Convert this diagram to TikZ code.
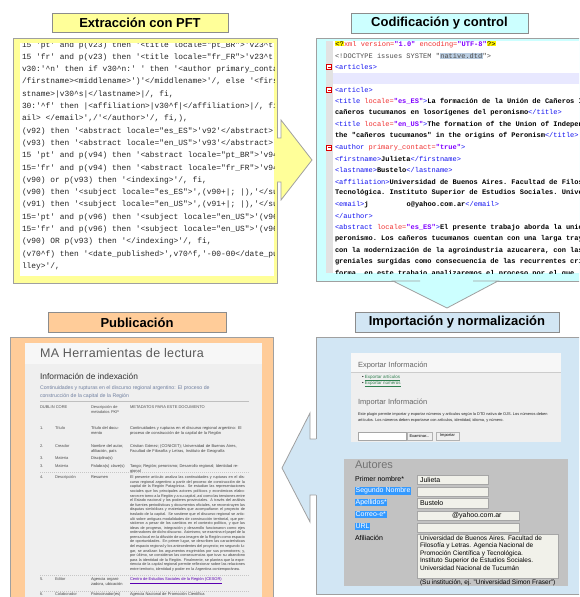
\documentclass[tikz,border=0pt]{standalone}
\usepackage{fontspec}
\setmainfont{Liberation Sans}
\setmonofont{Liberation Mono}
\usetikzlibrary{positioning}

\definecolor{pftyellow}{HTML}{FFFF99}
\definecolor{xmlcyan}{HTML}{CCFFFF}
\definecolor{pubpeach}{HTML}{FFCC99}
\definecolor{impblue}{HTML}{D2E6F4}
\definecolor{framegray}{HTML}{A0A0A0}
\definecolor{titlegray}{HTML}{8C8C8C}
\definecolor{xtagblue}{HTML}{1010F0}
\definecolor{xattred}{HTML}{F03030}
\definecolor{xvalpurple}{HTML}{8000FF}
\definecolor{dtdgray}{HTML}{B9CCE0}
\definecolor{foldband}{HTML}{E8E8FF}
\definecolor{gutter}{HTML}{E2E2E2}
\definecolor{ojsbg}{HTML}{EFEFEF}
\definecolor{ojstext}{HTML}{505050}
\definecolor{ojslink}{HTML}{7080A0}
\definecolor{linkgreen}{HTML}{2F7F4F}
\definecolor{formgray}{HTML}{C2C2C2}
\definecolor{fieldbg}{HTML}{F1F1EA}
\definecolor{selblue}{HTML}{3399FF}

\newcommand{\fsz}[2]{\fontsize{#1}{#2}\selectfont}
\newcommand{\ci}{\textasciicircum}
\newcommand{\xtag}[1]{\textcolor{xtagblue}{#1}}
\newcommand{\xatt}[1]{\textcolor{xattred}{#1}}
\newcommand{\xval}[1]{\textcolor{xvalpurple}{\bfseries #1}}
\newcommand{\xhl}[2]{{\setlength{\fboxsep}{0.3pt}\colorbox{#1}{#2}}}
\newcommand{\sel}[1]{{\setlength{\fboxsep}{0.6pt}\colorbox{selblue}{\textcolor{white}{#1}}}}

\begin{document}
\begin{tikzpicture}[x=1pt,y=-1pt,
  every node/.style={inner sep=0pt,outer sep=0pt},
  titlebox/.style={draw=titlegray,line width=0.8pt,minimum height=19.5pt,font=\fsz{13}{15}\bfseries},
  panel/.style={draw=framegray,line width=0.8pt},
  arrowedge/.style={draw=framegray,line width=0.8pt,line join=miter},
  pftline/.style={anchor=west,text=black!85,font=\ttfamily\fsz{7.9}{9}},
  xmlline/.style={anchor=west,font=\ttfamily\fsz{7}{8}},
  foldmark/.style={draw=red!85!black,line width=0.6pt},
  ojs/.style={anchor=north west,align=left,text=ojstext,font=\fsz{4}{4.6}},
  formlabel/.style={anchor=west,font=\fsz{7}{8}},
  field/.style={draw=gray!70,fill=fieldbg,line width=0.5pt},
  webbutton/.style={draw=gray!60,fill=gray!12,line width=0.4pt,font=\fsz{4}{5}}]

\useasboundingbox (0,0) rectangle (579,597);
\clip (0,0) rectangle (579,597);

\node[titlebox,minimum width=176pt,fill=pftyellow] (extr) at (140,23) {Extracción con PFT};
\node[titlebox,minimum width=177pt,fill=xmlcyan] (codif) at (439.5,23.5) {Codificación y control};
\node[titlebox,minimum width=178pt,fill=pubpeach] (pub) at (137,322.5) {Publicación};
\node[titlebox,minimum width=204pt,fill=impblue] (impo) at (457,322.5) {Importación y normalización};

\draw[panel,fill=pftyellow] (13,38) rectangle (277,283);
\fill[white] (20,43) rectangle (274,276);
\begin{scope}
  \clip (20,43) rectangle (274,276);
  \foreach \txt [count=\i from 0] in {
    {15 'pt' and p(v23) then '<title locale="pt\_BR">'v23\ci t'</title>'/, fi,},
    {15 'fr' and p(v23) then '<title locale="fr\_FR">'v23\ci t'</title>'/, fi,},
    {v30:'\ci n' then if v30\ci n:' ' then '<author primary\_contact="true">'},
    {/firstname><middlename>')'</middlename>'/, else '<firstname>'},
    {stname>|v30\ci s|</lastname>|/, fi,},
    {30:'\ci f' then |<affiliation>|v30\ci f|</affiliation>|/, fi,},
    {ail> </email>',/'</author>'/, fi,),},
    {(v92) then '<abstract locale="es\_ES">'v92'</abstract>'/,},
    {(v93) then '<abstract locale="en\_US">'v93'</abstract>'/,},
    {15 'pt' and p(v94) then '<abstract locale="pt\_BR">'v94},
    {15='fr' and p(v94) then '<abstract locale="fr\_FR">'v94},
    {(v90) or p(v93) then '<indexing>'/, fi,},
    {(v90) then '<subject locale="es\_ES">',(v90+|; |),'</subject>'},
    {(v91) then '<subject locale="en\_US">',(v91+|; |),'</subject>'},
    {15='pt' and p(v96) then '<subject locale="en\_US">'(v96},
    {15='fr' and p(v96) then '<subject locale="en\_US">'(v96},
    {(v90) OR p(v93) then '</indexing>'/, fi,},
    {(v70\ci f) then '<date\_published>',v70\ci f,'-00-00</date\_published>'},
    {lley>'/,}}
    \node[pftline] (pft\i) at (22,{45+12.3*\i}) {\txt};
\end{scope}

\draw[panel,fill=xmlcyan] (316,38) rectangle (590,281);
\fill[white] (326,41) rectangle (590,273);
\fill[gutter] (326,41) rectangle (333,273);
\fill[foldband] (333,{44.3+11.45*3-5.5}) rectangle (590,{44.3+11.45*3+5.5});
\begin{scope}
  \clip (326,41) rectangle (590,273);
  \foreach \txt [count=\i from 0] in {
    {\xhl{yellow}{<?}\xatt{xml version=}\xval{"1.0"} \xatt{encoding=}\xval{"UTF-8"}\xhl{yellow}{?>}},
    {\textcolor{black!70}{<!DOCTYPE issues SYSTEM "\xhl{dtdgray}{native.dtd}">}},
    {\xtag{<articles>}},
    {},
    {\xtag{<article>}},
    {\xtag{<title} \xatt{locale=}\xval{"es\_ES"}\xtag{>}\textbf{La formación de la Unión de Cañeros Independientes}},
    {\textbf{cañeros tucumanos en losorígenes del peronismo}\xtag{</title>}},
    {\xtag{<title} \xatt{locale=}\xval{"en\_US"}\xtag{>}\textbf{The formation of the Union of Independent}},
    {\textbf{the "cañeros tucumanos" in the origins of Peronism}\xtag{</title>}},
    {\xtag{<author} \xatt{primary\_contact=}\xval{"true"}\xtag{>}},
    {\xtag{<firstname>}\textbf{Julieta}\xtag{</firstname>}},
    {\xtag{<lastname>}\textbf{Bustelo}\xtag{</lastname>}},
    {\xtag{<affiliation>}\textbf{Universidad de Buenos Aires. Facultad de Filosofía}},
    {\textbf{Tecnológica. Instituto Superior de Estudios Sociales. Universidad}},
    {\xtag{<email>}\textbf{j\hspace{38pt}o@yahoo.com.ar}\xtag{</email>}},
    {\xtag{</author>}},
    {\xtag{<abstract} \xatt{locale=}\xval{"es\_ES"}\xtag{>}\textbf{El presente trabajo aborda la unión}},
    {\textbf{peronismo. Los cañeros tucumanos cuentan con una larga trayectoria}},
    {\textbf{con la modernización de la agroindustria azucarera, con las}},
    {\textbf{greniales surgidas como consecuencia de las recurrentes crisis}},
    {\textbf{forma, en este trabajo analizaremos el proceso por el que}}}
    \node[xmlline] (xml\i) at (335,{44.3+11.45*\i}) {\txt};
  \foreach \m in {2,4,9} {
    \draw[foldmark,fill=white] (326.5,{41.8+11.45*\m}) rectangle ++(5,5);
    \draw[foldmark] (327.5,{44.3+11.45*\m}) -- ++(3,0);
  }
\end{scope}

\fill[pftyellow] (275,138) -- (281,138) -- (281,120) -- (312,160) -- (281,200) -- (281,182) -- (275,182) -- cycle;
\draw[arrowedge] (277,138) -- (281,138) -- (281,120) -- (312,160) -- (281,200) -- (281,182) -- (277,182);
\fill[xmlcyan] (420,276) -- (420,281) -- (393,281) -- (447,308) -- (498,281) -- (473,281) -- (473,276) -- cycle;
\draw[arrowedge] (420,281) -- (393,281) -- (447,308) -- (498,281) -- (473,281);

\draw[panel,fill=pubpeach] (10,337) rectangle (273,610);
\fill[ojsbg] (25,343) rectangle (262,610);
\fill[white!50!ojsbg] (25,343) rectangle (262,364);
\node[anchor=west,text=black!65,font=\fsz{12.5}{14}\addfontfeatures{LetterSpace=3}] (ojshead) at (40,353) {MA Herramientas de lectura};
\node[anchor=west,text=black!80,font=\fsz{8.4}{10}] (indexhead) at (40,376) {Información de indexación};
\node[anchor=north west,align=left,text=ojslink,font=\fsz{5.2}{7.5}] (ojsart) at (40,386) {Continuidades y rupturas en el discurso regional argentino: El proceso de\\construcción de la capital de la Región};
\draw[gray!50,line width=0.5pt] (40,401) -- (249,401);
\node[ojs] (dchead) at (40,406) {DUBLIN CORE};
\node[ojs,text width=34pt] (pkphead) at (91,406) {Descripción de metadatos PKP};
\node[ojs] (dochead) at (130,406) {METADATOS PARA ESTE DOCUMENTO};
\foreach \ry/\rn/\rname/\rpkp [count=\k] in {427/1./Título/{Título del documento},
    445/2./Creador/{Nombre del autor, afiliación, país}, 457/3./Materia/{Disciplina(s)},
    465/3./Materia/{Palabra(s) clave(s)}, 476/4./Descripción/{Resumen},
    578/5./Editor/{Agencia organizadora, ubicación}, 593/6./Colaborador/{Patrocinador(es)}} {
  \node[ojs] (dcnum\k) at (40,\ry) {\rn};
  \node[ojs] (dcname\k) at (55,\ry) {\rname};
  \node[ojs,text width=34pt,text=black!75] (pkp\k) at (91,\ry) {\rpkp};
}
\node[ojs,text width=112pt,text=black!75] (doc1) at (130,427) {Continuidades y rupturas en el discurso regional argentino: El proceso de construcción de la capital de la Región};
\node[ojs,text width=112pt,text=black!75] (doc2) at (130,445) {Cristian Gómez; (CONICET); Universidad de Buenos Aires, Facultad de Filosofía y Letras, Instituto de Geografía};
\node[ojs,text width=112pt,text=black!75] (doc3) at (130,465) {Tango; Región; peronismo; Desarrollo regional; Identidad regional};
\node[ojs,text width=115pt,align=justify,text=black!75,font=\fsz{3.8}{3.45}] (doc4) at (130,476) {El presente artículo analiza las continuidades y rupturas en el discurso regional argentino a partir del proceso de construcción de la capital de la Región Patagónica. Se estudian las representaciones sociales que los principales actores políticos y económicos elaboraron en torno a la Región y a su capital, así como las tensiones entre el Estado nacional y los poderes provinciales. A través del análisis de fuentes periodísticas y documentos oficiales, se reconstruyen las disputas simbólicas y materiales que acompañaron el proyecto de traslado de la capital. Se sostiene que el discurso regional se articuló sobre antiguas modalidades de construcción territorial, que persistieron a pesar de los cambios en el contexto político, y que las ideas de progreso, integración y desarrollo funcionaron como ejes ordenadores de dicho discurso. Asimismo, se examina el papel de la prensa local en la difusión de una imagen de la Región como espacio de oportunidades. En primer lugar, se describen las características del espacio regional y los antecedentes del proyecto; en segundo lugar, se analizan los argumentos esgrimidos por sus promotores; y, por último, se consideran las consecuencias que tuvo su abandono para la identidad de la Región. Finalmente, se plantea que la experiencia de la capital regional permite reflexionar sobre las relaciones entre territorio, identidad y poder en la Argentina contemporánea.};
\node[ojs,text=xvalpurple!70!black] (doc5) at (130,578) {\underline{Centro de Estudios Sociales de la Región (CESOR)}};
\node[ojs,text=black!75] (doc6) at (130,593) {Agencia Nacional de Promoción Científica};
\foreach \sy in {472,575,591}
  \draw[gray!45,line width=0.4pt,dash pattern=on 1pt off 1pt] (40,\sy) -- (249,\sy);

\draw[panel,fill=impblue] (316,337) rectangle (590,594);
\fill[ojsbg] (351,353) rectangle (561,442);
\fill[white!50!ojsbg] (351,353) rectangle (561,372);
\begin{scope}
  \clip (351,353) rectangle (561,442);
  \node[anchor=west,text=black!60,font=\fsz{7.5}{9}] (exphead) at (358,366) {Exportar Información};
  \draw[gray!40,line width=0.5pt] (351,372.5) -- (561,372.5);
  \node[anchor=west,font=\fsz{4.5}{5}] (explink1) at (362,378) {\textbullet\ \textcolor{linkgreen}{\underline{Exportar artículos}}};
  \node[anchor=west,font=\fsz{4.5}{5}] (explink2) at (362,384) {\textbullet\ \textcolor{linkgreen}{\underline{Exportar números}}};
  \node[anchor=west,text=black!60,font=\fsz{7.5}{9}] (imphead) at (358,403) {Importar Información};
  \node[anchor=north west,align=left,text=black!85,font=\fsz{3.9}{6}] (imptext) at (358,413) {Este plugin permite importar y exportar números y artículos según la DTD nativa de OJS. Los números deben\\artículos. Los números deben exportarse con artículos, identidad, idioma, y número.};
  \draw[field,fill=white] (358,432) rectangle (406,440);
  \node[webbutton,minimum width=25pt,minimum height=8pt] (btnexam) at (419.5,436) {Examinar...};
  \node[webbutton,minimum width=23pt,minimum height=8pt] (btnimport) at (447.5,436) {Importar};
\end{scope}

\fill[formgray] (344,459) rectangle (568,586);
\begin{scope}
  \clip (344,459) rectangle (568,586);
  \node[anchor=west,text=black!55,font=\fsz{11}{12}] (autores) at (355,465) {Autores};
  \node[formlabel] (lbl1) at (355,479) {Primer nombre*};
  \node[formlabel] (lbl2) at (355,491) {\sel{Segundo Nombre}};
  \node[formlabel] (lbl3) at (355,502.5) {\sel{Apellidos*}};
  \node[formlabel] (lbl4) at (355,514.5) {\sel{Correo-e*}};
  \node[formlabel] (lbl5) at (355,526.5) {\sel{URL}};
  \node[formlabel] (lbl6) at (355,538) {Afiliación};
  \draw[field] (417,475) rectangle (488,484);
  \draw[field] (417,487) rectangle (488,496);
  \draw[field] (417,498) rectangle (488,508);
  \draw[field] (417,511) rectangle (519,520);
  \draw[field] (417,523) rectangle (519,532);
  \draw[field] (417,534) rectangle (558,578);
  \node[formlabel] (fname) at (420,479.5) {Julieta};
  \node[formlabel] (lname) at (420,503) {Bustelo};
  \node[formlabel] (email) at (452,515.5) {@yahoo.com.ar};
  \node[anchor=north west,align=left,font=\fsz{6.5}{7.5}] (afil) at (420,535.5) {Universidad de Buenos Aires. Facultad de\\Filosofía y Letras. Agencia Nacional de\\Promoción Científica y Tecnológica.\\Instituto Superior de Estudios Sociales.\\Universidad Nacional de Tucumán};
  \node[anchor=west,font=\fsz{6.5}{7}] (afilnote) at (420,583) {(Su institución, ej. "Universidad Simon Fraser")};
\end{scope}

\fill[impblue] (318,439) -- (310,439) -- (310,413) -- (282,468) -- (310,522) -- (310,495) -- (318,495) -- cycle;
\draw[arrowedge] (316,439) -- (310,439) -- (310,413) -- (282,468) -- (310,522) -- (310,495) -- (316,495);
\end{tikzpicture}
\end{document}
